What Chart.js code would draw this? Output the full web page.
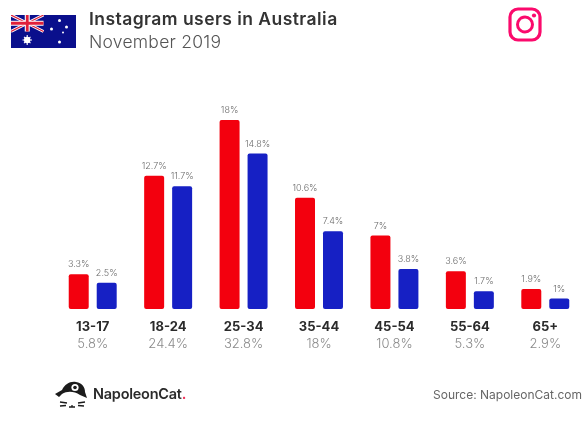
<!DOCTYPE html>
<html>
<head>
<meta charset="utf-8">
<style>
  html, body { margin: 0; padding: 0; background: #fff; }
  #page { position: relative; width: 583px; height: 421px; overflow: hidden; font-family: Inter, "Open Sans", sans-serif; }
  #page canvas { position: absolute; left: 0; top: 0; }
  .txt { position: absolute; white-space: nowrap; }
  #title { left: 89px; top: 8px; font-size: 17.5px; font-weight: 600; color: #333; letter-spacing: .45px; }
  #sub { left: 89px; top: 31px; font-size: 17.5px; font-weight: 300; color: #555; letter-spacing: .25px; }
  #brand { left: 93px; top: 385px; font-size: 14.5px; font-weight: 600; color: #2b2b2b; letter-spacing: -.25px; }
  #brand i { color: #f0325a; font-style: normal; }
  #source { right: 1px; top: 387px; font-size: 12px; color: #666; }
  svg { position: absolute; }
</style>
</head>
<body>
<div id="page">
  <canvas id="chart" width="583" height="421"></canvas>

  <svg id="flag" style="left:11px;top:15px" width="65" height="33" viewBox="0 0 65 33">
    <rect width="65" height="33" fill="#0a0f8c"/>
    <g stroke="#fff" stroke-width="3"><path d="M0 0L32.500 16.500M32.500 0L0 16.500"/></g>
    <g stroke="#e0203a" stroke-width="1.200"><path d="M0 0L32.500 16.500M32.500 0L0 16.500"/></g>
    <path d="M16.250 0V16.500M0 8.250H32.500" stroke="#fff" stroke-width="5"/>
    <path d="M16.250 0V16.500M0 8.250H32.500" stroke="#e0203a" stroke-width="2.800"/>
    <g fill="#fff">
      <circle cx="16.200" cy="25" r="3.200"/>
      <path d="M16.200 20V30M11.500 25H21M13 21.800L19.500 28.200M19.500 21.800L13 28.200" stroke="#fff" stroke-width="1.100"/>
      <circle cx="48.500" cy="5.500" r="1.500"/>
      <circle cx="40.500" cy="14" r="1.500"/>
      <circle cx="55.500" cy="12" r="1.500"/>
      <circle cx="52" cy="17.500" r="1"/>
      <circle cx="48.500" cy="27" r="1.500"/>
    </g>
  </svg>

  <div id="title" class="txt">Instagram users in Australia</div>
  <div id="sub" class="txt">November 2019</div>

  <svg id="insta" style="left:508px;top:7px" width="35" height="35" viewBox="0 0 35 35" fill="none" stroke="#fb0a6c">
    <rect x="2" y="2" width="30" height="31" rx="8" stroke-width="3.200"/>
    <circle cx="17" cy="17.500" r="7.500" stroke-width="3"/>
    <circle cx="26" cy="8.500" r="2.100" fill="#fb0a6c" stroke="none"/>
  </svg>

  <svg id="cat" style="left:54px;top:380px" width="36" height="30" viewBox="0 0 36 30">
    <path d="M1 14L8 10C11 4 16 1 22 2C28 3 31 7 31 12L33 18L26 15C20 11 13 11 8 14L5 17Z" fill="#1c1c1c"/>
    <circle cx="21" cy="7.500" r="3.600" fill="#fff"/>
    <circle cx="21" cy="7.500" r="1.800" fill="#1c1c1c"/>
    <path d="M6 22L13 23M6 26L12 25.500M24 23L31 22M24 25.500L30 26M15 27H21M18 25V27" stroke="#1c1c1c" stroke-width="1.300" fill="none"/>
  </svg>

  <div id="brand" class="txt">NapoleonCat<i>.</i></div>
  <div id="source" class="txt">Source: NapoleonCat.com</div>
</div>

<script src="https://cdn.jsdelivr.net/npm/chart.js@4/dist/chart.umd.min.js"></script>
<script>
// Age brackets with each bracket's share of all users
const ageGroups = ["13-17", "18-24", "25-34", "35-44", "45-54", "55-64", "65+"];
const totalShare = ["5.8%", "24.4%", "32.8%", "18%", "10.8%", "5.3%", "2.9%"];

// Percentages per series
const redValues = [3.3, 12.7, 18, 10.6, 7, 3.6, 1.9];
const blueValues = [2.5, 11.7, 14.8, 7.4, 3.8, 1.7, 1];

const FONT = 'Inter, "Open Sans", sans-serif';

// Writes each bar's percentage just above it
const barValueLabels = {
  id: "barValueLabels",
  afterDatasetsDraw(chart) {
    const ctx = chart.ctx;
    ctx.save();
    ctx.font = "300 9px " + FONT;
    ctx.fillStyle = "#6a6a6a";
    ctx.textAlign = "center";
    ctx.textBaseline = "alphabetic";
    chart.data.datasets.forEach((ds, i) => {
      chart.getDatasetMeta(i).data.forEach((bar, j) => {
        ctx.fillText(ds.data[j] + "%", bar.x, bar.y - 7);
      });
    });
    ctx.restore();
  }
};

new Chart(document.getElementById("chart"), {
  type: "bar",
  data: {
    labels: ageGroups,
    datasets: [
      { data: redValues, backgroundColor: "#f3000e", borderRadius: 2, borderSkipped: false },
      { data: blueValues, backgroundColor: "#1620c4", borderRadius: 2, borderSkipped: false }
    ]
  },
  options: {
    responsive: false,
    animation: false,
    categoryPercentage: 0.742,
    barPercentage: 0.714,
    layout: { padding: { left: 55, right: 0, top: 99, bottom: 63 } },
    plugins: { legend: { display: false }, tooltip: { enabled: false } },
    scales: {
      x: {
        grid: { display: false, drawTicks: false, tickLength: 0 },
        border: { display: false },
        afterFit(axis) { axis.height = 25; },
        ticks: {
          maxRotation: 0,
          autoSkip: false,
          padding: 10,
          color: "#2b2b2b",
          font: { family: FONT, size: 13, weight: "700" }
        }
      },
      shares: {
        type: "category",
        labels: totalShare,
        position: "bottom",
        grid: { display: false, drawTicks: false, tickLength: 0 },
        border: { display: false },
        afterFit(axis) { axis.height = 24; },
        ticks: {
          maxRotation: 0,
          autoSkip: false,
          padding: 2,
          color: "#8a8a8a",
          font: { family: FONT, size: 13, weight: "300" }
        }
      },
      y: { display: false, min: 0, max: 20 }
    }
  },
  plugins: [barValueLabels]
});
</script>
</body>
</html>
